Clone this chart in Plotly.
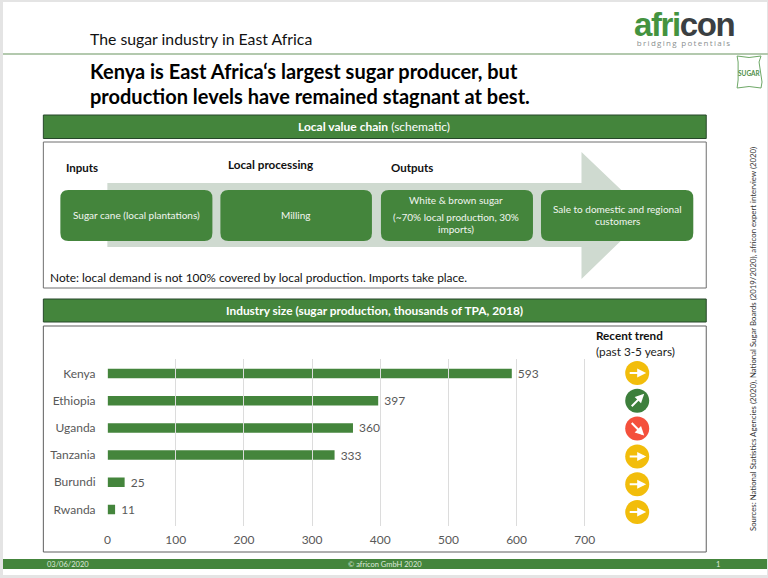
import plotly.graph_objects as go

countries = ["Kenya", "Ethiopia", "Uganda", "Tanzania", "Burundi", "Rwanda"]
production = [593, 397, 360, 333, 25, 11]
trend = ["flat", "up", "down", "flat", "flat", "flat"]
x_ticks = [0, 100, 200, 300, 400, 500, 600, 700]

W, H = 768, 578
GREEN = "#44853c"
FONT = "Lato"
TREND_COLOR = {"flat": "#f2bd0b", "up": "#3d7f3c", "down": "#f4503c"}
TREND_DIR = {"flat": (1, 0), "up": (1, 1), "down": (1, -1)}
TREND_COLUMN = 777


def px(x):
    return (x - 2.5 * max(0, 640 - x) / 600) / W


def py(y):
    return 1 - y / H


shapes = []
annotations = []


def rect(x0, y0, x1, y1, fill="rgba(0,0,0,0)", line=None, width=1, layer="below"):
    shapes.append(dict(type="rect", xref="paper", yref="paper", x0=px(x0), x1=px(x1), y0=py(y0), y1=py(y1),
                       fillcolor=fill, line=dict(color=line or "rgba(0,0,0,0)", width=width if line else 0), layer=layer))


def rrect(x0, y0, x1, y1, r, fill):
    d = (f"M{px(x0 + r)},{py(y0)} L{px(x1 - r)},{py(y0)} Q{px(x1)},{py(y0)} {px(x1)},{py(y0 + r)} "
         f"L{px(x1)},{py(y1 - r)} Q{px(x1)},{py(y1)} {px(x1 - r)},{py(y1)} "
         f"L{px(x0 + r)},{py(y1)} Q{px(x0)},{py(y1)} {px(x0)},{py(y1 - r)} "
         f"L{px(x0)},{py(y0 + r)} Q{px(x0)},{py(y0)} {px(x0 + r)},{py(y0)} Z")
    shapes.append(dict(type="path", xref="paper", yref="paper", path=d, fillcolor=fill, line=dict(width=0), layer="below"))


def txt(x, y, s, size=12, color="#111111", anchor="left", bold=False, family=FONT, angle=0, yanchor="middle"):
    annotations.append(dict(xref="paper", yref="paper", x=px(x), y=py(y), text=f"<b>{s}</b>" if bold else s,
                            showarrow=False, xanchor=anchor, yanchor=yanchor, textangle=angle,
                            font=dict(size=size, color=color, family=family), borderpad=0, borderwidth=0))


# page
shapes.append(dict(type="rect", xref="paper", yref="paper", x0=0, x1=767 / W, y0=py(575), y1=py(2),
                   fillcolor="white", line=dict(width=0), layer="below"))
shapes.append(dict(type="rect", xref="paper", yref="paper", x0=0, x1=1, y0=py(55), y1=py(53),
                   fillcolor="#b3c9ae", line=dict(width=0), layer="below"))

# header
txt(90, 38, "The sugar industry in East Africa", 15.8)
txt(90, 71.5, "Kenya is East Africa‘s largest sugar producer, but", 20, "#000000", bold=True)
txt(90, 95.5, "production levels have remained stagnant at best.", 20, "#000000", bold=True)
txt(634, 48,
    "<span style='font-size:33px;letter-spacing:-1.4px;font-family:Liberation Sans'><b><span style='color:#44933f'>afri</span>"
    "<span style='color:#3b3f42'>con</span></b></span><br>"
    "<span style='font-size:8px;letter-spacing:1.3px;color:#8a8f8f'>bridging potentials</span>",
    8, "#8a8f8f", family="Open Sans", yanchor="bottom")

# sugar bag icon
shapes.append(dict(type="path", xref="paper", yref="paper",
                   path=f"M{737 / W},{py(56)} Q{749 / W},{py(59)} {761 / W},{py(56)} L{759 / W},{py(62)} L{762 / W},{py(82)} "
                        f"L{761 / W},{py(88)} Q{749 / W},{py(85)} {737 / W},{py(88)} L{738 / W},{py(80)} L{738 / W},{py(62)} Z",
                   fillcolor="white", line=dict(color="#6ea867", width=1), layer="below"))
txt(749, 73, "SUGAR", 6.5, "#4f8f49", anchor="center", bold=True)

# section 1
rect(43, 115, 706, 138.5, fill=GREEN, line="#26472a", width=1)
txt(374, 126.5, "<b>Local value chain</b> (schematic)", 12, "white", anchor="center")
rect(43, 142, 706, 288, fill="white", line="#6f6f6f", width=1)
shapes.append(dict(type="path", xref="paper", yref="paper",
                   path=f"M{px(107)},{py(183)} L{px(581)},{py(183)} L{px(581)},{py(152)} L{px(647)},{py(215)} "
                        f"L{px(581)},{py(279)} L{px(581)},{py(247)} L{px(107)},{py(247)} Z",
                   fillcolor="#cfdad0", line=dict(width=0), layer="below"))
for x0, x1 in [(60, 212), (220, 371.5), (380.5, 532.5), (540.5, 693)]:
    rrect(x0, 190, x1, 241, 8, GREEN)
txt(66, 167, "Inputs", 11.5, "#111111", bold=True)
txt(228, 164, "Local processing", 11.7, "#111111", bold=True)
txt(391, 167, "Outputs", 11.5, "#111111", bold=True)
BOX = "#f2f6f0"
txt(136, 215, "Sugar cane (local plantations)", 10, BOX, anchor="center")
txt(296, 215, "Milling", 10, BOX, anchor="center")
txt(456, 200, "White &amp; brown sugar", 10, BOX, anchor="center")
txt(456, 217, "(~70% local production, 30%", 10, BOX, anchor="center")
txt(456, 229, "imports)", 10, BOX, anchor="center")
txt(617, 209, "Sale to domestic and regional", 10, BOX, anchor="center")
txt(617, 221, "customers", 10, BOX, anchor="center")
txt(50, 277, "Note: local demand is not 100% covered by local production. Imports take place.", 11.9, "#111111")

# section 2
rect(43, 299, 706, 322, fill=GREEN, line="#26472a", width=1)
txt(374, 310.5, "Industry size (sugar production, thousands of TPA, 2018)", 11.9, "white", anchor="center", bold=True)
rect(43, 326, 706, 552, fill="white", line="#5f5f5f", width=1)
txt(596, 335, "Recent trend", 11.7, "#111111", bold=True)
txt(596, 351, "(past 3-5 years)", 11.8, "#222222")

# sources
txt(753, 339, "Sources: National Statistics Agencies (2020), National Sugar Boards (2019/2020), africon expert interview (2020)",
    7.8, "#333333", anchor="center", angle=-90)

# footer
shapes.append(dict(type="rect", xref="paper", yref="paper", x0=0, x1=767 / W, y0=py(569), y1=py(559),
                   fillcolor=GREEN, line=dict(width=0), layer="below"))
txt(47, 564, "03/06/2020", 7.5, "#dfe9dc")
txt(385, 564, "© africon GmbH 2020", 7.5, "#dfe9dc", anchor="center")
txt(718, 564, "1", 7.5, "#dfe9dc", anchor="center")

# trend arrows
for c, t in zip(countries, trend):
    dx, dy = TREND_DIR[t]
    scale = 7 if t != "flat" else 9
    annotations.append(dict(xref="x", yref="y2", x=TREND_COLUMN, y=c, xshift=dx * scale, yshift=dy * scale,
                            axref="pixel", ayref="pixel", ax=-dx * scale * 2, ay=dy * scale * 2, text="",
                            showarrow=True, arrowhead=2, arrowsize=0.9, arrowwidth=2, arrowcolor="white"))

fig = go.Figure()
fig.add_trace(go.Bar(y=countries, x=production, orientation="h", marker=dict(color=GREEN, line=dict(width=0)),
                     text=production, texttemplate="\u00a0%{text}", textposition="outside", cliponaxis=False,
                     constraintext="none", textfont=dict(size=12, color="#595959", family=FONT), hoverinfo="skip"))
fig.add_trace(go.Scatter(y=countries, x=[TREND_COLUMN] * len(countries), yaxis="y2", mode="markers",
                         marker=dict(size=24, color=[TREND_COLOR[t] for t in trend], line=dict(width=0)),
                         hoverinfo="skip"))

x0_px = 105
x_right = x0_px + 0.6843 * 800
fig.update_layout(
    width=W, height=H, autosize=False, margin=dict(l=0, r=0, t=0, b=0), paper_bgcolor="#e4e4e4", plot_bgcolor="rgba(0,0,0,0)",
    showlegend=False, bargap=0.65, font=dict(family=FONT),
    shapes=shapes, annotations=annotations,
    xaxis=dict(domain=[x0_px / W, x_right / W], range=[0, 800], tickvals=x_ticks, showgrid=True, gridcolor="#dcdcdc", gridwidth=1,
               zeroline=False, showline=False, ticks="", ticklabelstandoff=8,
               tickfont=dict(size=12, color="#595959", family=FONT), anchor="y"),
    yaxis=dict(domain=[py(523), py(360)], range=[5.5, -0.5], type="category", categoryorder="array", categoryarray=countries,
               showgrid=False, zeroline=False, showline=False, ticks="", ticklabelstandoff=11,
               tickfont=dict(size=12, color="#595959", family=FONT), anchor="x"),
    yaxis2=dict(domain=[py(526), py(359)], range=[5.5, -0.5], type="category", categoryorder="array", categoryarray=countries,
                showgrid=False, zeroline=False, showline=False, showticklabels=False, ticks="", anchor="x"),
)
fig.write_html("out.html", config=dict(displayModeBar=False),
               post_script="document.body.style.margin='0';document.documentElement.style.overflow='hidden';")
